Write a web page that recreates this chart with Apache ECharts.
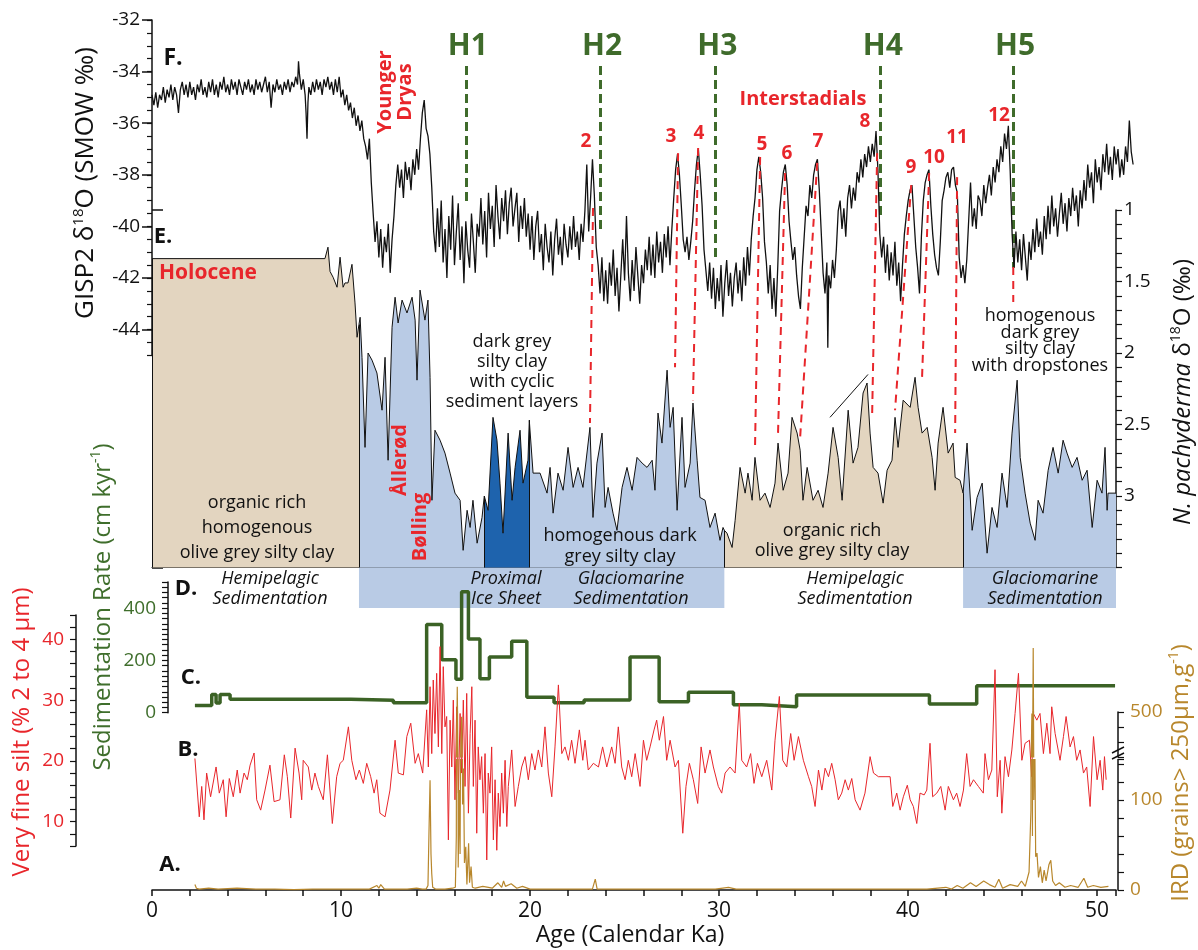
<!DOCTYPE html>
<html><head><meta charset="utf-8">
<script src="https://cdn.jsdelivr.net/npm/echarts@6/dist/echarts.min.js"></script>
<style>html,body{margin:0;padding:0;background:#fff}#c{width:1198px;height:950px}</style>
</head><body><div id="c"></div>
<script>
// ---------------- DATA ----------------
const heinrichNames = ['H1','H2','H3','H4','H5'];
const heinrichAges = [16.6, 23.7, 29.8, 38.55, 45.55];
const heinrichTop = -33.78;
const heinrichBottom = [-39.05, -40.2, -41.2, -39.75, -41.6];

// [age on GISP2, GISP2 value, age on core, N. pachyderma value]
const interstadialLinks = [
  [23.33,-39.29,23.17,2.49],[27.83,-37.16,27.67,2.10],[28.89,-36.96,28.62,2.33],
  [32.17,-37.31,31.90,2.68],[33.49,-37.93,33.12,2.56],[35.19,-37.54,34.29,2.59],
  [38.36,-37.16,38.10,2.42],[40.16,-38.40,39.31,2.40],[41.11,-37.93,40.74,2.17],
  [42.59,-38.09,42.49,2.56]
];
const h5Link = [45.56,-41.57,45.56,-42.93];
const trendLine = [35.87,2.45,37.88,2.15];

const faciesBounds = [0, 10.95, 17.58, 19.96, 30.28, 42.91, 51];
const faciesColors = ['#e3d5c0','#b9cbe5','#1e63ad','#b9cbe5','#e3d5c0','#b9cbe5'];
const glaciomarineBands = [[10.95,30.28],[42.91,51]];

const gisp = [
[0.0,-34.9],[0.1,-35.3],[0.2,-34.8],[0.3,-35.4],[0.4,-34.9],[0.5,-35.1],[0.6,-34.6],[0.7,-35.2],[0.8,-34.7],[0.9,-35.0],
[1.0,-34.5],[1.1,-35.1],[1.2,-34.6],[1.3,-34.9],[1.4,-35.6],[1.5,-34.7],[1.6,-34.4],[1.7,-34.9],[1.8,-34.5],[1.9,-35.0],
[2.0,-34.4],[2.1,-34.9],[2.2,-34.6],[2.3,-35.1],[2.4,-34.5],[2.5,-34.8],[2.6,-34.3],[2.7,-34.9],[2.8,-34.6],[2.9,-35.0],
[3.0,-34.4],[3.1,-34.8],[3.2,-34.3],[3.3,-34.9],[3.4,-34.5],[3.5,-35.0],[3.6,-34.4],[3.7,-34.7],[3.8,-34.2],[3.9,-34.8],
[4.0,-34.5],[4.1,-34.9],[4.2,-34.3],[4.3,-34.7],[4.4,-34.4],[4.5,-34.9],[4.6,-34.3],[4.7,-34.6],[4.8,-34.9],[4.9,-34.4],
[5.0,-34.7],[5.1,-34.3],[5.2,-34.8],[5.3,-34.5],[5.4,-34.9],[5.5,-34.3],[5.6,-34.7],[5.7,-34.4],[5.8,-34.8],[5.9,-34.5],
[6.0,-34.2],[6.1,-34.8],[6.2,-34.4],[6.3,-35.4],[6.4,-34.5],[6.5,-34.8],[6.6,-34.3],[6.7,-34.7],[6.8,-34.5],[6.9,-34.9],
[7.0,-34.4],[7.1,-34.7],[7.2,-34.3],[7.3,-34.8],[7.4,-34.4],[7.5,-34.6],[7.6,-34.2],[7.7,-34.5],[7.75,-33.6],[7.8,-34.1],
[7.9,-34.7],[8.0,-34.3],[8.1,-34.9],[8.15,-35.6],[8.2,-36.6],[8.25,-35.2],[8.3,-34.6],[8.4,-34.9],[8.5,-34.4],[8.6,-34.8],
[8.7,-34.3],[8.8,-34.7],[8.9,-34.4],[9.0,-34.9],[9.1,-34.3],[9.2,-34.6],[9.3,-34.2],[9.4,-34.7],[9.5,-34.4],[9.6,-34.9],
[9.7,-34.3],[9.8,-34.8],[9.9,-34.2],[10.0,-35.0],[10.1,-34.7],[10.2,-35.3],[10.3,-34.9],[10.4,-35.5],[10.5,-35.2],[10.6,-35.8],
[10.7,-35.4],[10.8,-36.1],[10.9,-35.7],[11.0,-36.3],[11.1,-35.9],[11.2,-36.6],[11.3,-36.9],[11.4,-37.4],[11.5,-36.6],[11.6,-38.3],
[11.7,-39.5],[11.8,-40.6],[11.9,-39.8],[12.0,-41.2],[12.1,-40.1],[12.2,-41.6],[12.3,-40.4],[12.4,-41.0],
[12.5,-39.9],[12.6,-41.8],[12.7,-40.5],[12.8,-39.6],[12.9,-38.4],[13.0,-37.6],[13.1,-38.5],[13.2,-37.8],[13.3,-38.9],[13.4,-37.5],
[13.5,-38.2],[13.6,-37.7],[13.7,-38.6],[13.8,-37.4],[13.9,-38.0],[14.0,-37.0],[14.1,-37.8],[14.2,-36.6],[14.3,-35.6],[14.4,-35.1],
[14.5,-36.2],[14.6,-36.5],[14.7,-37.2],[14.8,-38.5],[14.9,-40.2],[15.0,-41.0],[15.1,-39.3],[15.2,-40.8],[15.3,-39.0],[15.4,-41.4],
[15.5,-40.1],[15.6,-42.0],[15.7,-39.6],[15.8,-40.9],[15.9,-38.8],[16.0,-41.5],[16.1,-40.2],[16.2,-39.1],[16.3,-41.3],[16.4,-40.0],
[16.5,-42.2],[16.6,-39.8],[16.7,-40.9],[16.8,-41.6],[16.9,-39.5],[17.0,-40.6],[17.1,-41.8],[17.2,-39.9],[17.3,-40.4],[17.4,-38.9],
[17.5,-40.7],[17.6,-39.4],[17.7,-41.2],[17.8,-38.7],[17.9,-40.1],[18.0,-39.2],[18.1,-40.8],[18.2,-38.4],[18.3,-39.6],[18.4,-40.5],
[18.5,-38.9],[18.6,-39.8],[18.7,-38.6],[18.8,-40.3],[18.9,-39.1],[19.0,-38.5],[19.1,-40.0],[19.2,-39.3],[19.3,-38.7],[19.4,-40.6],
[19.5,-39.2],[19.6,-40.1],[19.7,-38.9],[19.8,-40.4],[19.9,-39.5],[20.0,-40.9],[20.1,-39.6],[20.2,-41.3],[20.3,-40.0],[20.4,-39.4],
[20.5,-41.0],[20.6,-40.3],[20.7,-41.7],[20.8,-39.9],[20.9,-40.8],[21.0,-41.4],[21.1,-40.2],[21.2,-41.9],[21.3,-40.5],[21.4,-39.7],
[21.5,-41.1],[21.6,-40.4],[21.7,-41.5],[21.8,-39.9],[21.9,-40.7],[22.0,-41.2],[22.1,-40.0],[22.2,-40.9],[22.3,-39.6],[22.4,-40.8],
[22.5,-40.2],[22.6,-41.3],[22.7,-39.9],[22.8,-40.6],[22.9,-39.4],[23.0,-37.6],[23.1,-40.2],[23.2,-38.9],[23.3,-37.4],[23.4,-38.8],
[23.5,-40.8],[23.6,-41.5],[23.7,-42.6],[23.8,-41.2],[23.9,-42.9],[24.0,-41.7],[24.1,-43.0],[24.2,-41.4],[24.3,-42.3],[24.4,-40.9],
[24.5,-42.7],[24.6,-41.6],[24.7,-43.3],[24.8,-41.9],[24.9,-40.5],[25.0,-42.1],[25.1,-39.6],[25.2,-41.8],[25.3,-42.9],[25.4,-41.3],
[25.5,-42.5],[25.6,-40.8],[25.7,-41.9],[25.8,-43.0],[25.9,-41.5],[26.0,-42.2],[26.1,-40.9],[26.2,-41.7],[26.3,-40.4],[26.4,-41.9],
[26.5,-40.7],[26.6,-42.0],[26.7,-40.2],[26.8,-41.4],[26.9,-40.6],[27.0,-41.8],[27.1,-40.3],[27.2,-41.2],[27.3,-40.0],[27.4,-41.5],
[27.5,-40.1],[27.6,-38.9],[27.7,-37.8],[27.8,-37.2],[27.9,-38.0],[28.0,-39.2],[28.1,-40.5],[28.2,-41.0],[28.3,-40.4],[28.4,-41.3],
[28.5,-40.6],[28.6,-39.8],[28.7,-38.6],[28.8,-37.6],[28.9,-37.0],[29.0,-38.0],[29.1,-39.2],[29.2,-40.9],[29.3,-41.7],[29.4,-42.5],
[29.5,-41.4],[29.6,-42.8],[29.7,-41.6],[29.8,-43.2],[29.9,-42.0],[30.0,-42.9],[30.1,-41.5],[30.2,-43.5],[30.3,-42.2],[30.4,-41.3],
[30.5,-42.7],[30.6,-41.8],[30.7,-43.1],[30.8,-42.0],[30.9,-41.4],[31.0,-42.6],[31.1,-41.7],[31.2,-42.9],[31.3,-41.2],[31.4,-42.3],
[31.5,-40.8],[31.6,-41.9],[31.7,-40.5],[31.8,-39.6],[31.9,-38.9],[32.0,-37.8],[32.1,-37.3],[32.2,-37.9],[32.3,-38.9],[32.4,-40.6],
[32.5,-41.4],[32.6,-42.6],[32.7,-41.5],[32.8,-43.2],[32.9,-42.0],[33.0,-43.5],[33.1,-41.6],[33.2,-39.4],[33.3,-38.6],[33.4,-37.9],
[33.5,-37.6],[33.6,-38.4],[33.7,-39.8],[33.8,-40.6],[33.9,-41.3],[34.0,-40.8],[34.1,-41.9],[34.2,-42.7],[34.3,-43.2],[34.4,-41.6],
[34.5,-40.4],[34.6,-39.2],[34.7,-39.6],[34.8,-38.4],[34.9,-38.9],[35.0,-38.0],[35.1,-37.6],[35.2,-37.4],[35.3,-38.6],[35.4,-40.2],
[35.5,-41.8],[35.6,-42.6],[35.7,-41.4],[35.75,-44.7],[35.8,-41.9],[35.9,-42.4],[36.0,-41.3],[36.1,-42.0],[36.2,-40.9],[36.3,-39.4],
[36.4,-39.0],[36.5,-40.1],[36.6,-39.3],[36.7,-40.4],[36.8,-38.9],[36.9,-38.4],[37.0,-39.3],[37.1,-38.5],[37.2,-39.0],[37.3,-37.9],
[37.4,-38.3],[37.5,-37.4],[37.6,-38.1],[37.7,-37.2],[37.8,-37.7],[37.9,-36.9],[38.0,-37.5],[38.1,-36.8],[38.2,-37.3],[38.3,-36.3],
[38.4,-37.8],[38.5,-40.3],[38.6,-41.2],[38.7,-40.4],[38.8,-41.8],[38.9,-40.7],[39.0,-42.1],[39.1,-41.0],[39.2,-41.9],[39.3,-40.6],
[39.4,-42.3],[39.5,-41.4],[39.6,-42.9],[39.7,-41.5],[39.8,-40.3],[39.9,-39.6],[40.0,-39.0],[40.1,-38.6],[40.2,-38.4],[40.3,-39.6],
[40.4,-40.8],[40.5,-41.6],[40.6,-42.6],[40.7,-40.4],[40.8,-39.0],[40.9,-38.3],[41.0,-38.0],[41.1,-37.8],[41.2,-39.2],[41.3,-40.3],
[41.4,-41.1],[41.5,-41.6],[41.6,-41.9],[41.7,-40.6],[41.8,-39.0],[41.9,-38.6],[42.0,-38.1],[42.1,-37.9],[42.2,-38.5],[42.3,-37.8],
[42.4,-37.7],[42.5,-38.4],[42.6,-38.7],[42.7,-41.2],[42.8,-42.0],[42.9,-41.5],[43.0,-42.2],[43.1,-41.3],[43.2,-39.8],[43.3,-38.3],
[43.4,-40.0],[43.5,-39.3],[43.6,-40.1],[43.7,-38.8],[43.8,-39.0],[43.9,-39.6],[44.0,-38.4],[44.1,-39.1],[44.2,-38.5],[44.3,-38.0],
[44.4,-38.8],[44.5,-37.7],[44.6,-38.3],[44.7,-37.4],[44.8,-37.9],[44.9,-36.9],[45.0,-37.5],[45.1,-36.4],[45.2,-37.0],[45.3,-36.1],
[45.4,-37.9],[45.5,-40.3],[45.6,-41.6],[45.7,-40.2],[45.8,-41.4],[45.9,-40.5],[46.0,-41.7],[46.1,-40.3],[46.2,-41.2],[46.3,-42.1],
[46.4,-40.6],[46.5,-41.3],[46.6,-40.1],[46.7,-41.0],[46.8,-39.7],[46.9,-40.8],[47.0,-40.2],[47.1,-41.1],[47.2,-39.6],[47.3,-40.5],
[47.4,-39.2],[47.5,-40.3],[47.6,-38.8],[47.7,-40.0],[47.8,-39.3],[47.9,-40.4],[48.0,-39.5],[48.1,-38.7],[48.2,-39.9],[48.3,-39.1],
[48.4,-40.2],[48.5,-38.9],[48.6,-39.6],[48.7,-38.5],[48.8,-39.4],[48.9,-38.8],[49.0,-40.0],[49.1,-38.6],[49.2,-39.3],[49.3,-38.2],
[49.4,-39.0],[49.5,-37.6],[49.6,-38.5],[49.7,-37.9],[49.8,-39.1],[49.9,-37.4],[50.0,-38.3],[50.1,-37.7],[50.2,-38.6],[50.3,-37.2],
[50.4,-37.9],[50.5,-36.8],[50.6,-38.0],[50.7,-37.3],[50.8,-38.2],[50.9,-36.9],[51.0,-37.6],[51.1,-37.0],[51.2,-38.1],[51.3,-37.4],
[51.4,-38.0],[51.5,-36.9],[51.6,-37.5],[51.7,-35.9],[51.8,-37.1],[51.9,-37.6]
];

const pachy = [
[0,1.34],[9.15,1.34],[9.31,1.26],[9.42,1.43],[9.58,1.47],[9.79,1.54],[9.95,1.33],[10.11,1.54],[10.21,1.51],[10.37,1.51],
[10.58,1.38],[10.74,1.65],[10.85,1.89],[10.95,1.80],[11.01,1.75],[11.11,2.03],[11.27,2.66],[11.43,2.00],[11.64,2.05],[11.90,2.14],
[12.17,2.40],[12.33,2.03],[12.49,2.75],[12.70,1.82],[12.86,1.61],[13.02,1.79],[13.23,1.63],[13.49,1.72],[13.76,1.61],[13.92,1.77],
[14.02,2.19],[14.18,1.56],[14.44,1.77],[14.60,1.63],[14.71,2.17],[14.81,3.03],[14.97,2.54],[15.24,2.61],[15.50,2.70],[15.77,2.84],
[16.03,2.98],[16.30,3.03],[16.46,3.38],[16.67,3.10],[16.83,3.22],[16.98,3.03],[17.20,3.33],[17.46,3.15],[17.58,3.00],[17.78,3.10],
[18.04,2.45],[18.25,2.61],[18.41,2.91],[18.57,3.26],[18.84,2.56],[19.05,3.03],[19.21,2.80],[19.47,2.54],[19.63,2.91],[19.89,2.75],
[19.96,2.47],[20.16,2.84],[20.53,2.84],[20.90,2.98],[21.06,2.80],[21.22,3.12],[21.48,2.84],[21.75,2.96],[22.01,2.66],[22.28,2.94],
[22.54,2.80],[22.80,2.94],[23.17,2.52],[23.33,3.15],[23.54,2.77],[23.81,2.56],[23.97,3.08],[24.13,2.94],[24.39,3.12],[24.60,3.24],
[24.87,2.94],[25.13,2.80],[25.40,2.96],[25.66,2.73],[25.93,2.77],[26.19,2.80],[26.46,2.75],[26.61,2.96],[26.77,2.42],[26.98,2.63],
[27.25,2.12],[27.41,2.52],[27.57,2.38],[27.78,3.10],[28.04,2.45],[28.20,2.94],[28.47,2.77],[28.62,2.35],[28.84,2.75],[28.99,3.01],
[29.26,3.03],[29.52,3.22],[29.79,3.12],[30.05,3.31],[30.21,3.22],[30.28,3.24],[30.42,3.26],[30.69,3.36],[30.85,3.17],[31.11,2.80],
[31.38,2.98],[31.53,2.84],[31.75,3.03],[31.90,2.73],[32.17,3.03],[32.43,2.98],[32.70,3.08],[32.96,2.91],[33.12,2.63],[33.39,2.96],
[33.65,2.84],[33.86,2.45],[34.13,2.56],[34.29,2.68],[34.44,3.03],[34.66,2.80],[34.97,3.03],[35.24,2.96],[35.50,3.08],[35.77,2.84],
[36.03,2.52],[36.30,2.73],[36.51,3.03],[36.83,2.40],[37.09,2.77],[37.35,2.66],[37.62,2.28],[37.83,2.21],[37.99,2.56],[38.15,2.80],
[38.41,2.84],[38.68,3.05],[38.89,2.82],[39.15,2.75],[39.31,2.45],[39.47,2.66],[39.74,2.33],[40.11,2.38],[40.37,2.17],[40.53,2.38],
[40.74,2.56],[41.01,2.52],[41.27,2.73],[41.43,2.96],[41.59,2.63],[41.85,2.38],[42.12,2.70],[42.38,2.63],[42.49,2.87],[42.75,2.89],
[42.91,2.98],[43.12,2.63],[43.39,3.24],[43.65,3.01],[43.92,2.91],[44.18,3.40],[44.44,3.08],[44.71,3.22],[44.97,2.84],[45.24,3.08],
[45.50,2.56],[45.77,2.19],[45.93,2.73],[46.19,2.98],[46.46,3.19],[46.72,3.31],[46.88,3.03],[47.14,3.12],[47.41,2.82],[47.67,2.66],
[47.94,2.84],[48.20,2.61],[48.41,2.70],[48.68,2.80],[48.94,2.73],[49.21,2.89],[49.47,2.82],[49.74,3.22],[50.00,2.89],[50.26,2.98],
[50.42,2.66],[50.53,3.10],[50.58,2.98],[51.00,2.98]
];

const sedAge  = [2.27,3.16,3.39,3.6,4.13,10.52,12.77,14.53,15.33,16.08,16.38,16.74,17.35,17.85,19.03,19.83,21.27,22.86,25.29,26.83,28.38,30.76,32.26,34.10,41.13,43.63,50.95];
const sedRate = [28,70,37,70,51,48,38,337,203,128,463,282,130,213,273,59,38,49,213,42,78,30,23,68,33,103,103];

const silt = [
[2.27,20.4],[2.5,10.8],[2.63,15.8],[2.75,10.3],[2.89,18.0],[3.1,14.1],[3.39,19.0],[3.56,14.7],[3.77,16.9],[3.92,10.8],
[4.09,17.1],[4.3,14.1],[4.51,18.5],[4.66,14.7],[4.87,18.0],[5.04,16.9],[5.19,19.3],[5.4,21.3],[5.54,13.6],[5.75,11.9],
[5.98,15.2],[6.24,19.3],[6.46,13.3],[6.77,13.6],[7.0,21.0],[7.16,17.4],[7.34,10.6],[7.57,22.1],[7.78,18.0],[7.92,13.6],
[8.0,20.1],[8.27,19.0],[8.45,15.2],[8.62,18.0],[8.8,15.8],[9.06,13.6],[9.28,21.0],[9.54,9.7],[9.77,17.4],[9.95,19.6],
[10.12,20.1],[10.39,25.6],[10.57,20.1],[10.79,16.9],[10.97,18.5],[11.18,16.3],[11.36,19.6],[11.57,17.4],[11.75,14.7],[11.89,16.9],
[12.06,11.4],[12.33,10.8],[12.59,15.2],[12.86,23.4],[13.03,18.0],[13.3,17.7],[13.48,24.0],[13.69,26.2],[13.92,19.6],[14.09,21.2],
[14.32,18.0],[14.53,28.4],[14.62,19.0],[14.71,32.2],[14.8,21.2],[14.88,33.3],[14.97,24.5],[15.06,34.4],[15.15,22.3],[15.24,38.8],
[15.33,21.2],[15.41,35.5],[15.5,25.6],[15.59,27.3],[15.68,7.0],[15.77,26.7],[15.86,19.0],[15.94,30.0],[16.03,13.6],[16.12,28.9],
[16.21,14.7],[16.3,27.8],[16.38,18.0],[16.47,30.0],[16.56,15.8],[16.65,31.1],[16.74,11.4],[16.83,24.5],[16.92,32.2],[17.0,15.8],
[17.09,26.7],[17.18,8.1],[17.26,22.3],[17.35,16.9],[17.44,20.7],[17.53,11.4],[17.62,21.2],[17.71,3.7],[17.79,18.0],[17.88,14.7],
[17.97,22.3],[18.06,7.0],[18.15,16.9],[18.24,5.3],[18.32,14.7],[18.41,9.2],[18.5,18.0],[18.59,11.4],[18.68,20.1],[18.77,9.2],
[18.85,15.8],[19.03,21.8],[19.21,12.5],[19.38,15.8],[19.56,19.0],[19.74,20.7],[19.91,16.9],[20.09,21.2],[20.26,18.5],[20.44,21.8],
[20.62,19.0],[20.79,25.6],[20.97,18.0],[21.15,14.1],[21.32,22.3],[21.5,32.5],[21.68,21.2],[21.85,22.3],[22.03,20.1],[22.2,23.4],
[22.38,19.6],[22.61,25.1],[22.79,20.1],[22.91,23.4],[23.08,18.5],[23.35,19.6],[23.62,19.0],[23.84,22.3],[24.06,19.0],[24.32,22.3],
[24.5,19.6],[24.67,25.6],[24.85,19.0],[25.03,16.9],[25.2,20.1],[25.38,17.4],[25.56,21.2],[25.82,15.8],[26.0,23.4],[26.17,20.1],
[26.35,22.3],[26.56,25.1],[26.7,26.7],[26.84,23.4],[27.06,27.3],[27.23,20.1],[27.41,23.4],[27.67,19.0],[27.85,20.1],[28.08,8.1],
[28.25,15.8],[28.43,19.6],[28.64,16.9],[28.87,13.0],[29.05,22.3],[29.26,18.0],[29.52,21.8],[29.7,19.0],[29.96,15.8],[30.14,14.7],
[30.32,18.0],[30.58,19.0],[30.85,18.0],[31.07,29.5],[31.2,20.1],[31.46,19.0],[31.67,21.2],[31.85,16.3],[32.03,19.6],[32.26,17.4],
[32.52,20.1],[32.79,15.2],[32.96,23.4],[33.19,30.6],[33.37,20.1],[33.58,19.0],[33.79,24.5],[33.97,20.1],[34.2,24.0],[34.46,20.1],
[34.73,17.4],[34.9,15.8],[35.08,12.5],[35.26,18.5],[35.44,15.2],[35.61,18.8],[35.79,17.4],[35.96,19.6],[36.14,16.9],[36.31,13.6],
[36.49,14.7],[36.67,16.9],[36.84,15.2],[37.02,17.1],[37.2,13.6],[37.46,11.9],[37.72,14.7],[37.99,20.7],[38.17,18.0],[38.43,17.4],
[38.78,17.4],[39.05,17.4],[39.19,12.5],[39.4,14.7],[39.58,11.9],[39.75,14.1],[39.96,16.0],[40.11,13.6],[40.28,12.5],[40.46,9.7],
[40.63,14.7],[40.85,14.4],[40.99,15.2],[41.16,22.9],[41.3,14.1],[41.52,14.7],[41.73,15.8],[41.96,11.9],[42.13,15.8],[42.4,13.6],
[42.57,14.7],[42.75,12.5],[42.93,15.2],[43.1,21.2],[43.28,15.8],[43.46,16.9],[43.72,15.8],[43.98,14.7],[44.07,21.2],[44.25,16.9],
[44.43,18.5],[44.6,35.0],[44.72,14.1],[44.87,20.1],[44.96,11.4],[45.13,20.7],[45.31,17.4],[45.49,21.8],[45.66,27.8],[45.84,34.4],
[46.02,20.1],[46.19,22.9],[46.42,23.4],[46.54,17.4],[46.63,27.8],[46.81,26.7],[46.98,27.8],[47.16,21.2],[47.34,26.2],[47.51,21.2],
[47.6,28.9],[47.78,24.5],[48.04,20.1],[48.22,24.0],[48.36,27.3],[48.57,22.3],[48.75,24.0],[48.92,20.1],[49.1,21.8],[49.28,18.0],
[49.45,19.0],[49.63,12.5],[49.81,24.0],[50.0,16.9],[50.16,20.1],[50.3,15.2],[50.39,20.7],[50.48,16.9]
];

const ird = [
[2.27,6],[2.35,2],[2.5,1],[3.0,2],[3.5,1],[4.5,2],[5.5,1],[6.5,1],[7.5,0.5],[8.5,1],[9.5,1],[10.5,1],[11.5,1],[11.9,5],[12.0,2],
[12.1,6],[12.3,1],[13.0,1],[13.5,1],[14.0,2],[14.3,1],[14.5,1],[14.6,5],[14.65,60],[14.71,122],[14.76,40],[14.8,18],[14.85,3],[15.0,1],[15.5,1],
[15.9,2],[16.05,3],[16.1,60],[16.15,669],[16.2,25],[16.25,111],[16.3,40],[16.38,469],[16.43,95],[16.48,135],[16.53,30],[16.6,48],[16.66,6],[16.75,52],
[16.8,8],[16.88,26],[16.95,3],[17.1,2],[17.5,4],[17.8,3],[18.0,2],[18.3,8],[18.5,3],[18.6,10],[18.7,4],[19.0,7],[19.3,2],[19.6,4],[20.0,1],
[21.0,1],[22.0,1],[23.3,1],[23.45,12],[23.55,1],[24.5,1],[26.0,1],[27.5,1],[28.5,1],[29.8,1],[30.5,3],[30.9,1],[32.0,1],[34.0,1],[36.0,1],
[38.0,1],[40.0,1],[41.0,1],[42.0,3],[42.3,1],[42.6,5],[42.9,2],[43.3,8],[43.6,4],[44.0,10],[44.3,6],[44.6,3],[44.8,12],[45.0,2],[45.4,6],
[45.8,4],[46.0,10],[46.2,4],[46.4,20],[46.5,89],[46.55,490],[46.58,60],[46.62,927],[46.65,100],[46.7,180],[46.75,37],[46.82,41],[46.9,14],[47.0,26],
[47.1,8],[47.2,22],[47.3,10],[47.45,28],[47.55,33],[47.65,10],[47.8,5],[48.0,8],[48.3,3],[48.6,5],[49.0,3],[49.3,13],[49.5,3],[49.8,5],
[50.2,3],[50.6,4]
];

// ---------------- CHART ----------------
const FONT = '"Open Sans", "Noto Sans", sans-serif';
const RED = '#e8262b', HGREEN = '#3f6b2b', SEDGREEN = '#3b6225', GOLD = '#b8872c', INK = '#111';
const chart = echarts.init(document.getElementById('c'));

const G = (top, height, width) => ({left:152, top, height, width, containLabel:false, outerBoundsMode:'none', show:false});
const grids = [
  G(20, 335.4, 983),   // 0 GISP2 (F)
  G(20, 309.6, 983),   // 1 GISP2 major ticks
  G(210, 357.5, 964),  // 2 N. pachyderma (E)
  G(567.5, 40.5, 964), // 3 sedimentation band
  G(582, 130.7, 964),  // 4 sed rate (D)
  G(615, 231, 964),    // 5 silt (B)
  G(759.5, 130.5, 964),// 6 IRD low (A)
  G(712, 45, 964),     // 7 IRD mid
  G(644.5, 67.5, 964)  // 8 IRD top
];
const hidden = {show:false};
const xAxes = grids.map((g, i) => ({
  gridIndex: i, type:'value', min:0, max: i < 2 ? 52 : 51, show:false, splitLine:hidden
}));
xAxes[2] = {gridIndex:2, type:'value', min:0, max:51, position:'bottom',
  axisLine:{show:true, onZero:false, lineStyle:{color:INK, width:1}}, axisTick:hidden, axisLabel:hidden, splitLine:hidden};
xAxes[6] = {gridIndex:6, type:'value', min:0, max:51, interval:2, position:'bottom',
  axisLine:{show:true, onZero:false, lineStyle:{color:INK, width:1.5}},
  axisTick:{show:true, inside:false, length:6, lineStyle:{color:INK, width:1.5}},
  axisLabel:{show:true, margin:11, color:INK, fontSize:21, fontFamily:FONT, formatter:v => (v % 10 === 0 ? String(v) : '')},
  splitLine:hidden};

const lineAx = (w) => ({show:true, onZero:false, lineStyle:{color:INK, width:w}});
const yAxes = [
  {gridIndex:0, type:'value', min:-45, max:-32, interval:0.5, axisLine:lineAx(1.5),
   axisTick:{show:true, length:5, lineStyle:{color:INK, width:1.2}}, axisLabel:hidden, splitLine:hidden},
  {gridIndex:1, type:'value', min:-44, max:-32, interval:2, axisLine:{show:false},
   axisTick:{show:true, length:10, lineStyle:{color:INK, width:1.5}},
   axisLabel:{show:true, margin:12, color:INK, fontSize:19, fontFamily:FONT}, splitLine:hidden},
  {gridIndex:2, type:'value', min:1, max:3.5, inverse:true, position:'right', interval:0.1, axisLine:lineAx(1.5),
   axisTick:{show:true, length:6, lineStyle:{color:INK, width:1.2}}, axisLabel:hidden, splitLine:hidden},
  {gridIndex:2, type:'value', min:1, max:3.5, inverse:true, position:'right', interval:0.5, axisLine:{show:false},
   axisTick:{show:true, length:11, lineStyle:{color:INK, width:1.5}},
   axisLabel:{show:true, margin:8, color:INK, fontSize:19, fontFamily:FONT, formatter:v => (v > 3.2 ? '' : String(v))},
   splitLine:hidden},
  {gridIndex:3, type:'value', min:0, max:1, show:false, splitLine:hidden},
  {gridIndex:4, type:'value', min:0, max:500, interval:20, position:'left', offset:-16, axisLine:lineAx(1.5),
   axisTick:{show:true, length:6, lineStyle:{color:INK, width:1.2}},
   axisLabel:{show:true, margin:12, color:'#3f6e2c', fontSize:19, fontFamily:FONT, formatter:v => (v % 200 === 0 ? String(v) : '')},
   splitLine:hidden},
  {gridIndex:5, type:'value', min:6, max:44, interval:2, position:'left', offset:76, axisLine:lineAx(1.5),
   axisTick:{show:true, length:6, lineStyle:{color:INK, width:1.2}},
   axisLabel:{show:true, margin:12, color:RED, fontSize:19, fontFamily:FONT, formatter:v => (v % 10 === 0 ? String(v) : '')},
   splitLine:hidden},
  {gridIndex:6, type:'value', min:0, max:145, interval:20, position:'right', offset:2, axisLine:lineAx(1.5),
   axisTick:{show:true, length:6, lineStyle:{color:INK, width:1.2}},
   axisLabel:{show:true, margin:12, color:GOLD, fontSize:19, fontFamily:FONT, formatter:v => (v === 0 || v === 100 ? String(v) : '')},
   splitLine:hidden},
  {gridIndex:7, type:'value', min:200, max:500, interval:100, position:'right', offset:2, axisLine:lineAx(1.5),
   axisTick:{show:true, length:6, lineStyle:{color:INK, width:1.2}},
   axisLabel:{show:true, margin:12, color:GOLD, fontSize:19, fontFamily:FONT, formatter:v => (v === 500 ? '500' : '')},
   splitLine:hidden},
  {gridIndex:8, type:'value', min:500, max:950, show:false, splitLine:hidden}
];

const series = [];
// F: GISP2
series.push({type:'line', xAxisIndex:0, yAxisIndex:0, data:gisp, symbol:'none', z:6,
  lineStyle:{color:INK, width:1.3}, silent:true,
  markLine:{silent:true, symbol:['none','none'], label:{show:false}, animation:false,
    lineStyle:{color:HGREEN, width:3, type:[9,5]},
    data: heinrichAges.map((a, i) => [{coord:[a, heinrichTop]}, {coord:[a, heinrichBottom[i]]}])}});

// E: N. pachyderma, split by facies
const valueAt = a => { const p = pachy.find(d => Math.abs(d[0] - a) < 1e-9); return p ? p[1] : 3.5; };
for (let i = 0; i < faciesColors.length; i++) {
  const seg = pachy.filter(d => d[0] >= faciesBounds[i] - 1e-9 && d[0] <= faciesBounds[i + 1] + 1e-9);
  const s = {type:'line', xAxisIndex:2, yAxisIndex:2, data:seg, symbol:'none', z:3, silent:true,
    lineStyle:{color:INK, width:1}, areaStyle:{color:faciesColors[i], opacity:1, origin:'end'}};
  if (i === 0) {
    s.markLine = {silent:true, symbol:['none','none'], label:{show:false}, animation:false, z:4,
      lineStyle:{color:INK, width:1, type:'solid'},
      data: faciesBounds.slice(0, -1).map(b => [{coord:[b, valueAt(b)]}, {coord:[b, 3.5]}])};
  }
  series.push(s);
}
// sedimentation environment band
series.push({type:'line', xAxisIndex:3, yAxisIndex:4, data:[[0,0]], symbol:'none', lineStyle:{opacity:0}, silent:true,
  markArea:{silent:true, itemStyle:{color:'#b9cbe5', opacity:1},
    data: glaciomarineBands.map(b => [{coord:[b[0], 0]}, {coord:[b[1], 1]}])}});
// D: sedimentation rate
series.push({type:'line', xAxisIndex:4, yAxisIndex:5, step:'end', symbol:'none', z:2, silent:true,
  data: sedAge.map((a, i) => [a, sedRate[i]]), lineStyle:{color:SEDGREEN, width:3.5}});
// B: silt
series.push({type:'line', xAxisIndex:5, yAxisIndex:6, data:silt, symbol:'none', z:3, clip:false, silent:true,
  lineStyle:{color:RED, width:1}});
// A: IRD (broken axis: same data in three stacked grids)
[[6,7],[7,8],[8,9]].forEach(([xi, yi]) => series.push({type:'line', xAxisIndex:xi, yAxisIndex:yi, data:ird,
  symbol:'none', z:4, clip:true, silent:true, lineStyle:{color:GOLD, width:1.2}}));

chart.setOption({animation:false, backgroundColor:'#fff', grid:grids, xAxis:xAxes, yAxis:yAxes, series});

// ---------------- ANNOTATIONS ----------------
const pF = (a, v) => chart.convertToPixel({xAxisIndex:0, yAxisIndex:0}, [a, v]);
const pE = (a, v) => chart.convertToPixel({xAxisIndex:2, yAxisIndex:2}, [a, v]);
const txt = (text, x, y, o = {}) => ({type:'text', x, y, rotation:o.rot || 0, z:50, silent:true,
  style:{text, fill:o.fill || INK, fontSize:o.size || 18, fontFamily:FONT, fontWeight:o.weight || 'normal',
    fontStyle:o.style || 'normal', lineHeight:o.lh, align:'center', verticalAlign:'middle',
    textAlign:'center', textVerticalAlign:'middle', rich:o.rich}});
const seg = (p1, p2, color, w, dash) => ({type:'line', z:20, silent:true,
  shape:{x1:p1[0], y1:p1[1], x2:p2[0], y2:p2[1]}, style:{stroke:color, lineWidth:w, lineDash:dash || null}});

const graphics = [];
interstadialLinks.forEach(l => graphics.push(seg(pF(l[0], l[1]), pE(l[2], l[3]), RED, 2, [8, 6])));
graphics.push(seg(pF(h5Link[0], h5Link[1]), pF(h5Link[2], h5Link[3]), RED, 2, [8, 6]));
graphics.push(seg(pE(trendLine[0], trendLine[1]), pE(trendLine[2], trendLine[3]), INK, 1));
// axis break marks
graphics.push(seg([1112, 753], [1124, 747], INK, 1.5));
graphics.push(seg([1112, 759], [1124, 753], INK, 1.5));

heinrichNames.forEach((n, i) => graphics.push(txt(n, pF(heinrichAges[i], -32)[0] + 2, 46, {fill:HGREEN, size:30, weight:'bold'})));

const ISN = [['2',586,142],['3',671,137],['4',699,134],['5',762,145],['6',787,154],['7',818,142],['8',865,122],
             ['9',911,168],['10',934,158],['11',957,138],['12',999,116]];
ISN.forEach(d => graphics.push(txt(d[0], d[1], d[2], {fill:RED, size:19, weight:'bold'})));
graphics.push(
  txt('Interstadials', 803, 99, {fill:RED, size:20, weight:'bold'}),
  txt('Holocene', 208, 273, {fill:RED, size:21, weight:'bold'}),
  txt('Younger\nDryas', 395, 92, {fill:RED, size:20, weight:'bold', lh:20, rot:Math.PI / 2}),
  txt('Ållerød', 400, 460, {fill:RED, size:20, weight:'bold', rot:Math.PI / 2}),
  txt('Bølling', 420, 527, {fill:RED, size:20, weight:'bold', rot:Math.PI / 2}),
  txt('F.', 173, 58, {size:23, weight:'bold'}),
  txt('E.', 163, 237, {size:22, weight:'bold'}),
  txt('D.', 186, 589, {size:22, weight:'bold'}),
  txt('C.', 191, 678, {size:22, weight:'bold'}),
  txt('B.', 188, 750, {size:22, weight:'bold'}),
  txt('A.', 170, 865, {size:22, weight:'bold'}),
  txt('organic rich\nhomogenous\nolive grey silty clay', 257, 528, {size:18, lh:25}),
  txt('dark grey\nsilty clay\nwith cyclic\nsediment layers', 512, 372, {size:18, lh:20}),
  txt('homogenous dark\ngrey silty clay', 620, 546, {size:18, lh:21}),
  txt('organic rich\nolive grey silty clay', 832, 541, {size:18, lh:20}),
  txt('homogenous\ndark grey\nsilty clay\nwith dropstones', 1040, 341, {size:18, lh:16.7}),
  txt('Hemipelagic\nSedimentation', 270, 589, {size:18, lh:20, style:'italic'}),
  txt('Proximal\nIce Sheet', 506, 589, {size:18, lh:20, style:'italic'}),
  txt('Glaciomarine\nSedimentation', 631, 589, {size:18, lh:20, style:'italic'}),
  txt('Hemipelagic\nSedimentation', 855, 589, {size:18, lh:20, style:'italic'}),
  txt('Glaciomarine\nSedimentation', 1045, 589, {size:18, lh:20, style:'italic'}),
  txt('Age (Calendar Ka)', 630, 935, {size:23}),
  txt('GISP2 δ{s|18}O (SMOW ‰)', 86, 183, {size:26, lh:30, rot:Math.PI / 2, rich:{s:{fontSize:15, verticalAlign:'top', lineHeight:30, fontFamily:FONT}}}),
  txt('{i|N. pachyderma} δ{s|18}O (‰)', 1183, 392, {size:24, lh:28, rot:Math.PI / 2,
    rich:{i:{fontStyle:'italic', fontSize:24, fontFamily:FONT, lineHeight:28}, s:{fontSize:14, verticalAlign:'top', lineHeight:28, fontFamily:FONT}}}),
  txt('Sedimentation Rate (cm kyr{s|-1})', 103, 607, {size:24, lh:28, fill:'#3f6e2c', rot:Math.PI / 2,
    rich:{s:{fontSize:14, verticalAlign:'top', lineHeight:28, fill:'#3f6e2c', fontFamily:FONT}}}),
  txt('Very fine silt (% 2 to 4 µm)', 22, 732, {size:24, fill:RED, rot:Math.PI / 2}),
  txt('IRD (grains> 250µm,g{s|-1})', 1181, 773, {size:24, lh:28, fill:GOLD, rot:Math.PI / 2,
    rich:{s:{fontSize:14, verticalAlign:'top', lineHeight:28, fill:GOLD, fontFamily:FONT}}})
);
chart.setOption({graphic: graphics});
</script>
</body></html>
